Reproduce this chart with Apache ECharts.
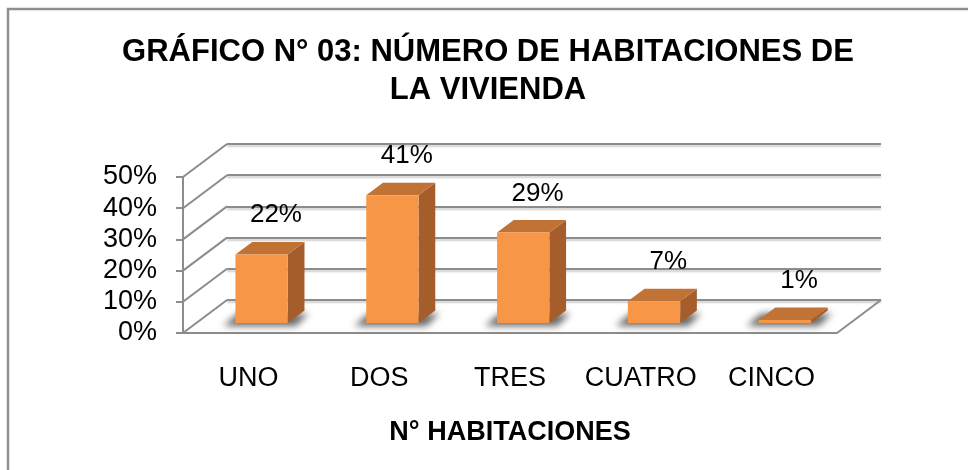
<!DOCTYPE html>
<html>
<head>
<meta charset="utf-8">
<script src="https://cdn.jsdelivr.net/npm/echarts@6/dist/echarts.min.js"></script>
<style>
  html, body { margin: 0; padding: 0; background: #fff; }
  #main { width: 968px; height: 470px; }
</style>
</head>
<body>
<div id="main"></div>
<script>
// datos del gráfico
const categories = ["UNO", "DOS", "TRES", "CUATRO", "CINCO"];
const percentages = [0.22, 0.41, 0.29, 0.07, 0.01];
const yTicks = [0, 0.1, 0.2, 0.3, 0.4, 0.5];

const FONT = "'Liberation Sans', Arial, sans-serif";
const GRAY = "#8c8c8c";
// desplazamiento de profundidad (pared frontal -> pared del fondo)
const DX = 44, DY = -33;

const pct = v => Math.round(v * 100) + "%";

let chart = echarts.init(document.getElementById("main"));

chart.setOption({
  backgroundColor: "#fff",
  animation: false,
  title: {
    text: "GRÁFICO N° 03: NÚMERO DE HABITACIONES DE\nLA VIVIENDA",
    left: 483,
    top: 28,
    textAlign: "center",
    textStyle: { fontFamily: FONT, fontSize: 31, fontWeight: "bold", color: "#000", lineHeight: 38, align: "center" }
  },
  graphic: [
    {
      type: "rect",
      shape: { x: 8, y: 9, width: 1000, height: 500 },
      style: { fill: null, stroke: "#8f8f8f", lineWidth: 2.5 },
      silent: true
    }
  ],
  grid: [
    { left: 183, top: 177, width: 654, height: 156 },
    { left: 183 + DX, top: 177 + DY, width: 654, height: 156 }
  ],
  xAxis: [
    {
      gridIndex: 0,
      type: "category",
      data: categories,
      axisLine: { lineStyle: { color: GRAY, width: 2 } },
      axisTick: { show: false },
      axisLabel: { interval: 0, margin: 32, fontSize: 27, color: "#000", fontFamily: FONT },
      name: "N° HABITACIONES",
      nameLocation: "middle",
      nameGap: 86,
      nameTextStyle: { fontSize: 27, fontWeight: "bold", color: "#000", fontFamily: FONT }
    },
    { gridIndex: 1, type: "category", data: categories, show: false }
  ],
  yAxis: [
    {
      gridIndex: 0,
      type: "value",
      min: 0,
      max: 0.5,
      interval: 0.1,
      axisLine: { show: true, lineStyle: { color: GRAY, width: 2 } },
      axisTick: { show: true, length: 7, lineStyle: { color: GRAY, width: 2 } },
      axisLabel: { formatter: pct, margin: 26, fontSize: 27, color: "#000", fontFamily: FONT },
      splitLine: { show: false }
    },
    {
      gridIndex: 1,
      type: "value",
      min: 0,
      max: 0.5,
      interval: 0.1,
      axisLine: { show: false },
      axisTick: { show: false },
      axisLabel: { show: false },
      splitLine: {
        show: true,
        lineStyle: { color: GRAY, width: 2, shadowColor: "rgba(0,0,0,0.2)", shadowBlur: 2, shadowOffsetY: 2 }
      }
    }
  ],
  series: [
    {
      // diagonales de la pared lateral y borde derecho del piso
      type: "custom",
      xAxisIndex: 0,
      yAxisIndex: 0,
      silent: true,
      z: 1,
      data: yTicks.map(v => [0, v]),
      renderItem: function (params, api) {
        const cs = params.coordSys;
        const y = api.coord([0, api.value(1)])[1];
        const lineStyle = { stroke: GRAY, lineWidth: 2 };
        const children = [
          { type: "line", shape: { x1: cs.x, y1: y, x2: cs.x + DX, y2: y + DY }, style: lineStyle }
        ];
        if (api.value(1) === 0) {
          children.push({
            type: "line",
            shape: { x1: cs.x + cs.width, y1: y, x2: cs.x + cs.width + DX, y2: y + DY },
            style: lineStyle
          });
        }
        return { type: "group", children: children };
      }
    },
    {
      // barras 3D
      type: "custom",
      xAxisIndex: 0,
      yAxisIndex: 0,
      z: 5,
      data: percentages.map((v, i) => [i, v]),
      renderItem: function (params, api) {
        const v = api.value(1);
        const base = api.coord([api.value(0), 0]);
        const top = api.coord([api.value(0), v]);
        const band = api.size([1, 0])[0];
        const w = band * 0.4;
        const ox = DX * 0.3, oy = DY * 0.3;
        const bdx = DX * 0.38, bdy = DY * 0.38;
        const xl = base[0] - w / 2 + ox, xr = xl + w;
        const yb = base[1] + oy, yt = top[1] + oy;
        return {
          type: "group",
          children: [
            {
              // sombra sobre el piso
              type: "polygon",
              shape: {
                points: [
                  [xl - 12 - 2000, yb + 3], [xr + 8 - 2000, yb + 3],
                  [xr + bdx + 4 - 2000, yb + bdy + 3], [xl + bdx - 14 - 2000, yb + bdy + 3]
                ]
              },
              style: {
                fill: "#000",
                shadowColor: "rgba(0,0,0,0.6)",
                shadowBlur: 7,
                shadowOffsetX: 2000
              },
              silent: true
            },
            {
              type: "polygon",
              shape: { points: [[xr, yb], [xr, yt], [xr + bdx, yt + bdy], [xr + bdx, yb + bdy]] },
              style: { fill: "#a55e2b" }
            },
            {
              type: "polygon",
              shape: { points: [[xl, yt], [xr, yt], [xr + bdx, yt + bdy], [xl + bdx, yt + bdy]] },
              style: { fill: "#c17235" }
            },
            {
              type: "rect",
              shape: { x: xl, y: yt, width: w, height: yb - yt },
              style: { fill: "#f79646" }
            },
            {
              type: "text",
              style: {
                text: pct(v),
                x: (xl + xr) / 2 + bdx / 2 + 6,
                y: yt + bdy / 2 - 33,
                align: "center",
                verticalAlign: "middle",
                fontSize: 26,
                fontFamily: FONT,
                fill: "#000"
              }
            }
          ]
        };
      }
    }
  ]
});
</script>
</body>
</html>
